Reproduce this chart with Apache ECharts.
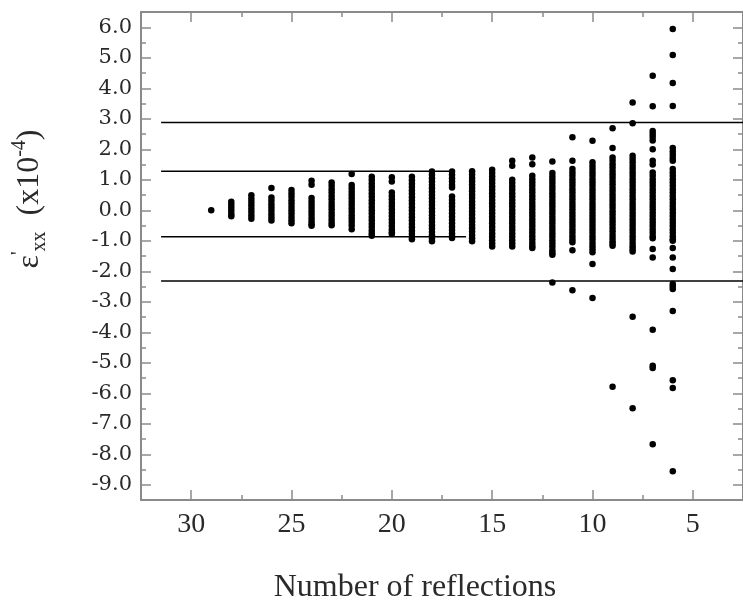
<!DOCTYPE html>
<html>
<head>
<meta charset="utf-8">
<script src="https://cdn.jsdelivr.net/npm/echarts@6/dist/echarts.min.js"></script>
<style>
html,body{margin:0;padding:0;background:#fff;}
#chart{width:743px;height:609px;}
</style>
</head>
<body>
<div id="chart"></div>
<script>
// ---- data ----
const nReflections = [29,28,27,26,25,24,23,22,21,20,19,18,17,16,15,14,13,12,11,10,9,8,7,6];
const eps29 = [0.0];
const eps28 = [0.28,0.18,0.08,-0.02,-0.12,-0.2];
const eps27 = [0.49,0.38,0.27,0.16,0.05,-0.06,-0.17,-0.28];
const eps26 = [0.73,0.42,0.31,0.2,0.09,-0.02,-0.13,-0.24,-0.34];
const eps25 = [0.66,0.55,0.44,0.33,0.22,0.11,0.0,-0.11,-0.22,-0.33,-0.43];
const eps24 = [0.97,0.84,0.4,0.29,0.18,0.07,-0.04,-0.15,-0.26,-0.37,-0.46,-0.51];
const eps23 = [0.91,0.8,0.69,0.58,0.47,0.36,0.25,0.14,0.03,-0.08,-0.19,-0.3,-0.41,-0.49];
const eps22 = [1.19,0.83,0.72,0.61,0.5,0.39,0.28,0.17,0.06,-0.05,-0.16,-0.27,-0.38,-0.49,-0.62];
const eps21 = [1.1,0.99,0.88,0.77,0.66,0.55,0.44,0.33,0.22,0.11,0.0,-0.11,-0.22,-0.33,-0.44,-0.55,-0.66,-0.76,-0.84];
const eps20 = [1.08,0.94,0.58,0.47,0.36,0.25,0.14,0.03,-0.08,-0.19,-0.3,-0.41,-0.52,-0.63,-0.72,-0.78];
const eps19 = [1.1,0.98,0.87,0.76,0.65,0.54,0.43,0.32,0.21,0.1,-0.01,-0.12,-0.23,-0.34,-0.45,-0.56,-0.67,-0.78,-0.88,-0.95];
const eps18 = [1.27,1.16,1.05,0.94,0.83,0.72,0.61,0.5,0.39,0.28,0.17,0.06,-0.05,-0.16,-0.27,-0.38,-0.49,-0.6,-0.71,-0.82,-0.93,-1.02];
const eps17 = [1.27,1.16,1.05,0.94,0.83,0.75,0.45,0.34,0.23,0.12,0.01,-0.1,-0.21,-0.32,-0.43,-0.54,-0.65,-0.76,-0.85,-0.91];
const eps16 = [1.28,1.17,1.06,0.95,0.84,0.73,0.62,0.51,0.4,0.29,0.18,0.07,-0.04,-0.15,-0.26,-0.37,-0.48,-0.59,-0.7,-0.81,-0.92,-1.02];
const eps15 = [1.33,1.22,1.11,1.0,0.89,0.78,0.67,0.56,0.45,0.34,0.23,0.12,0.01,-0.1,-0.21,-0.32,-0.43,-0.54,-0.65,-0.76,-0.87,-0.98,-1.09,-1.19];
const eps14 = [1.62,1.46,1.0,0.89,0.78,0.67,0.56,0.45,0.34,0.23,0.12,0.01,-0.1,-0.21,-0.32,-0.43,-0.54,-0.65,-0.76,-0.87,-0.98,-1.09,-1.19];
const eps13 = [1.73,1.51,1.13,1.02,0.91,0.8,0.69,0.58,0.47,0.36,0.25,0.14,0.03,-0.08,-0.19,-0.3,-0.41,-0.52,-0.63,-0.74,-0.85,-0.96,-1.07,-1.17,-1.24];
const eps12 = [1.6,1.22,1.11,1.0,0.89,0.78,0.67,0.56,0.45,0.34,0.23,0.12,0.01,-0.1,-0.21,-0.32,-0.43,-0.54,-0.65,-0.76,-0.87,-0.98,-1.09,-1.2,-1.31,-1.4,-1.46,-2.37];
const eps11 = [2.39,1.62,1.35,1.24,1.13,1.02,0.91,0.8,0.69,0.58,0.47,0.36,0.25,0.14,0.03,-0.08,-0.19,-0.3,-0.41,-0.52,-0.63,-0.74,-0.85,-0.96,-1.05,-1.31,-2.62];
const eps10 = [2.28,1.57,1.46,1.35,1.24,1.13,1.02,0.91,0.8,0.69,0.58,0.47,0.36,0.25,0.14,0.03,-0.08,-0.19,-0.3,-0.41,-0.52,-0.63,-0.74,-0.85,-0.96,-1.07,-1.18,-1.28,-1.38,-1.76,-2.88];
const eps9 = [2.69,2.04,1.73,1.62,1.51,1.4,1.29,1.18,1.07,0.96,0.85,0.74,0.63,0.52,0.41,0.3,0.19,0.08,-0.03,-0.14,-0.25,-0.36,-0.47,-0.58,-0.69,-0.8,-0.91,-1.02,-1.1,-1.16,-5.79];
const eps8 = [3.53,2.85,1.79,1.68,1.57,1.46,1.35,1.24,1.13,1.02,0.91,0.8,0.69,0.58,0.47,0.36,0.25,0.14,0.03,-0.08,-0.19,-0.3,-0.41,-0.52,-0.63,-0.74,-0.85,-0.96,-1.07,-1.18,-1.27,-1.35,-3.49,-6.49];
const eps7 = [4.41,3.41,2.6,2.5,2.4,2.29,2.0,1.62,1.5,1.24,1.13,1.02,0.91,0.8,0.69,0.58,0.47,0.36,0.25,0.14,0.03,-0.08,-0.19,-0.3,-0.41,-0.52,-0.63,-0.74,-0.85,-0.92,-1.27,-1.55,-3.92,-5.1,-5.17,-7.67];
const eps6 = [5.94,5.09,4.17,3.42,2.04,1.93,1.82,1.71,1.62,1.35,1.24,1.13,1.02,0.91,0.8,0.69,0.58,0.47,0.36,0.25,0.14,0.03,-0.08,-0.19,-0.3,-0.41,-0.52,-0.63,-0.74,-0.85,-0.95,-1.0,-1.24,-1.55,-1.93,-2.42,-2.5,-2.58,-3.3,-5.57,-5.83,-8.56];
const epsColumns = [eps29,eps28,eps27,eps26,eps25,eps24,eps23,eps22,eps21,eps20,eps19,eps18,eps17,eps16,eps15,eps14,eps13,eps12,eps11,eps10,eps9,eps8,eps7,eps6];

// horizontal reference lines
const refLevels = [2.88, 1.28, -0.87, -2.32];
const refStart  = [31.5, 31.5, 31.5, 31.5];
const refEnd    = [2.5, 17.1, 16.3, 2.5];

// tick labels
const xMajorTicks = [5,10,15,20,25,30];
const xMinorTicks = [7.5,12.5,17.5,22.5,27.5];
const yMajorTicks = [-9,-8,-7,-6,-5,-4,-3,-2,-1,0,1,2,3,4,5,6];
const yMinorTicks = [-8.5,-7.5,-6.5,-5.5,-4.5,-3.5,-2.5,-1.5,-0.5,0.5,1.5,2.5,3.5,4.5,5.5];

// ---- build ----
const points = [];
nReflections.forEach((n, i) => epsColumns[i].forEach(v => points.push([n, v])));

const AX = '#8a8a8a';
const TXT = '#2a2a2a';
function xAx(pos, ticks, len, showLine, showLabel) {
  return {
    type: 'value', gridIndex: 0, position: pos, min: 2.5, max: 32.5, inverse: true,
    axisLine: {show: showLine, onZero: false, lineStyle: {color: AX, width: 2}},
    axisTick: {show: true, inside: true, length: len, customValues: ticks, lineStyle: {color: AX, width: 1.5}},
    axisLabel: showLabel ? {show: true, customValues: ticks, margin: 11, fontFamily: 'Liberation Serif', fontSize: 28, color: TXT} : {show: false},
    splitLine: {show: false}
  };
}
function yAx(pos, ticks, len, showLine, showLabel) {
  return {
    type: 'value', gridIndex: 0, position: pos, min: -9.5, max: 6.5,
    axisLine: {show: showLine, onZero: false, lineStyle: {color: AX, width: 2}},
    axisTick: {show: true, inside: true, length: len, customValues: ticks, lineStyle: {color: AX, width: 1.5}},
    axisLabel: showLabel ? {show: true, customValues: ticks, margin: 9, fontFamily: 'DejaVu Serif', fontSize: 21, color: TXT,
      formatter: v => v.toFixed(1)} : {show: false},
    splitLine: {show: false}
  };
}

const series = [{
  type: 'scatter', xAxisIndex: 0, yAxisIndex: 0, data: points,
  symbol: 'circle', symbolSize: 6.5, itemStyle: {color: '#000', opacity: 1}, silent: true, z: 3
}];
refLevels.forEach((lv, i) => {
  series.push({
    type: 'line', xAxisIndex: 0, yAxisIndex: 0, data: [[refStart[i], lv], [refEnd[i], lv]],
    showSymbol: false, symbol: 'none', lineStyle: {color: '#000', width: 1.5}, silent: true, z: 2
  });
});

const chart = echarts.init(document.getElementById('chart'), null, {renderer: 'canvas'});
chart.setOption({
  backgroundColor: '#fff',
  animation: false,
  grid: {left: 141, top: 12, width: 607, height: 488},
  xAxis: [
    xAx('bottom', xMajorTicks, 10, true, true),
    xAx('bottom', xMinorTicks, 5, false, false),
    xAx('top', xMajorTicks, 10, true, false),
    xAx('top', xMinorTicks, 5, false, false)
  ],
  yAxis: [
    yAx('left', yMajorTicks, 10, true, true),
    yAx('left', yMinorTicks, 5, false, false),
    yAx('right', yMajorTicks, 10, true, false),
    yAx('right', yMinorTicks, 5, false, false)
  ],
  graphic: [
    {type: 'text', x: 415, y: 588, style: {text: 'Number of reflections', fontFamily: 'Liberation Serif', fontSize: 32, fill: TXT, align: 'center', verticalAlign: 'middle'}},
    {type: 'text', x: 30, y: 199, rotation: Math.PI / 2,
      style: {
        text: '{e|ε}{p|\'}{s|xx}{g|  }{a|(x10}{u|-4}{a|)}',
        align: 'center', verticalAlign: 'middle', fill: TXT,
        rich: {
          e: {fontFamily: 'Liberation Serif', fontSize: 32, lineHeight: 40, verticalAlign: 'middle', fill: TXT},
          p: {fontFamily: 'Liberation Serif', fontSize: 20, lineHeight: 20, verticalAlign: 'top', fill: TXT},
          s: {fontFamily: 'Liberation Serif', fontSize: 20, lineHeight: 20, verticalAlign: 'bottom', fill: TXT},
          g: {fontFamily: 'Liberation Serif', fontSize: 32, lineHeight: 40, fill: TXT},
          a: {fontFamily: 'Liberation Serif', fontSize: 32, lineHeight: 40, verticalAlign: 'middle', fill: TXT},
          u: {fontFamily: 'Liberation Serif', fontSize: 20, lineHeight: 20, verticalAlign: 'top', fill: TXT}
        }
      }}
  ],
  series: series
});
</script>
</body>
</html>
